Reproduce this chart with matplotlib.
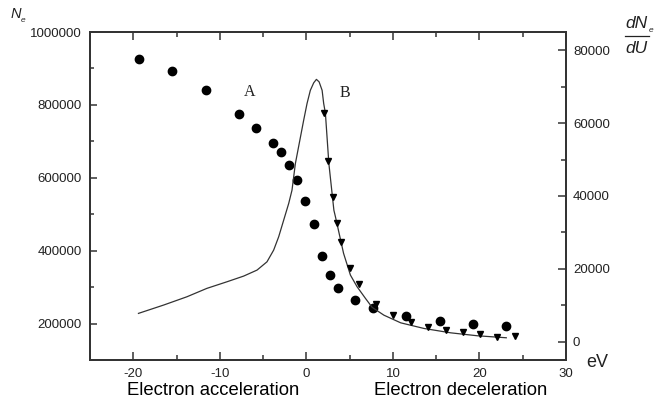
import matplotlib
matplotlib.use("Agg")
import matplotlib.pyplot as plt
from matplotlib.ticker import MultipleLocator
from matplotlib.lines import Line2D

plt.rcParams['font.family'] = ['Liberation Sans', 'DejaVu Sans']

# Ne (left axis) - circles
ne_x = [-19.3, -15.5, -11.65, -7.8, -5.8, -3.9, -2.97, -1.97, -1.08, -0.15,
        0.85, 1.8, 2.78, 3.7, 5.67, 7.66, 11.5, 15.4, 19.28, 23.1]
ne_y = [925000, 893500, 840500, 774500, 736000, 695500, 670000, 634000, 594000, 537000,
        473000, 386500, 332000, 298500, 263500, 242400, 220000, 206600, 199000, 194400]

# dNe/dU (right axis) - triangles
tri_x = [2.05, 2.55, 3.08, 3.55, 4.05, 5.0, 6.05, 8.1, 10.05, 12.06, 14.07,
         16.1, 18.1, 20.08, 22.05, 24.1]
tri_y = [62800, 49600, 39800, 32650, 27400, 20350, 15750, 10350, 7300, 5450, 4120,
         3210, 2600, 2200, 1250, 1450]

# dNe/dU (right axis) - curve
curve_x = [-19.4, -16.5, -13.8, -11.5, -9.18, -7.25, -5.7, -4.55, -3.78, -3.2, -2.62,
           -2.04, -1.66, -1.27, -0.31, 0.08, 0.46, 0.85, 1.16, 1.47, 1.82, 2.0, 2.2,
           2.6, 3.18, 3.36, 4.3, 5.09, 5.86, 6.83, 7.6, 8.96, 10.9, 13.6, 16.7, 19.75, 23.1]
curve_y = [7790, 10070, 12350, 14650, 16460, 18020, 19670, 21940, 25150, 28800, 33380,
           37960, 41600, 48900, 60800, 65400, 69000, 71060, 72000, 71330, 69000, 65400,
           62700, 48900, 36100, 34300, 24250, 18300, 15100, 11900, 9450, 7300, 5200, 3650,
           2450, 1650, 1100]

x_ticks = [-20, -10, 0, 10, 20, 30]
left_ticks = [200000, 400000, 600000, 800000, 1000000]
right_ticks = [0, 20000, 40000, 60000, 80000]

W, H = 654, 404
fig = plt.figure(figsize=(W / 100, H / 100), dpi=100)
ax = fig.add_axes([90 / W, 44 / H, 476 / W, 328 / H])
ax2 = ax.twinx()

spine_c = '#333333'
text_c = '#222222'

ax.plot(ne_x, ne_y, 'o', color='black', markersize=6, zorder=3)
ax2.plot(curve_x, curve_y, '-', color='#333333', linewidth=0.9)
ax2.plot(tri_x, tri_y, 'v', color='black', markersize=4.5)

ax.set_xlim(-25, 30)
ax.set_ylim(100000, 1000000)
ax2.set_ylim(-5000, 85000)

ax.set_xticks(x_ticks)
ax.set_xticklabels([str(v) for v in x_ticks])
ax.xaxis.set_minor_locator(MultipleLocator(5))
ax.set_yticks(left_ticks)
ax.set_yticklabels([str(v) for v in left_ticks])
ax.yaxis.set_minor_locator(MultipleLocator(100000))
ax2.set_yticks(right_ticks)
ax2.set_yticklabels([str(v) for v in right_ticks])
ax2.yaxis.set_minor_locator(MultipleLocator(10000))

for a in (ax, ax2):
    for s in a.spines.values():
        s.set_color(spine_c)
        s.set_linewidth(1.3)

ax.tick_params(axis='x', which='both', direction='in', top=True, bottom=True,
               color=spine_c, width=1.1, labelsize=9.5, labelcolor=text_c, pad=6)
ax.tick_params(axis='x', which='major', length=6)
ax.tick_params(axis='x', which='minor', length=3.5)
ax.tick_params(axis='y', which='both', direction='in', left=True, right=False,
               color=spine_c, width=1.1, labelsize=9.5, labelcolor=text_c, pad=6)
ax.tick_params(axis='y', which='major', length=5)
ax.tick_params(axis='y', which='minor', length=3)
ax2.tick_params(axis='y', which='both', direction='in', right=True, left=False,
                color=spine_c, width=1.1, labelsize=9.5, labelcolor=text_c, pad=5)
ax2.tick_params(axis='y', which='major', length=6)
ax2.tick_params(axis='y', which='minor', length=3.5)


def ft(x, y, s, **kw):
    fig.text(x / W, 1 - y / H, s, **kw)


# Annotations A and B
ft(250, 92, 'A', family=['Liberation Serif'], fontsize=11.5, ha='center', va='center', color='#222222')
ft(345, 93, 'B', family=['Liberation Serif'], fontsize=11.5, ha='center', va='center', color='#222222')

# Left axis label N_e
ft(11, 18.5, 'N', fontsize=10.5, style='italic', ha='left', va='baseline', color=text_c)
ft(21, 21.5, 'e', fontsize=6, style='italic', ha='left', va='baseline', color=text_c)

# Right axis label dNe/dU
ft(625, 28.3, 'dN', fontsize=12.5, style='italic', ha='left', va='baseline', color=text_c)
ft(648.5, 32, 'e', fontsize=6, style='italic', ha='left', va='baseline', color=text_c)
fig.add_artist(Line2D([625 / W, 649 / W], [1 - 35.7 / H, 1 - 35.7 / H],
                      color=text_c, linewidth=0.9, transform=fig.transFigure))
ft(625, 52.7, 'dU', fontsize=12.5, style='italic', ha='left', va='baseline', color=text_c)

# eV
ft(586, 367, 'eV', fontsize=13, ha='left', va='baseline', color=text_c)

# Bottom labels
ft(213, 395, 'Electron acceleration', fontsize=13.3, ha='center', va='baseline', color='black')
ft(460.5, 395, 'Electron deceleration', fontsize=13.3, ha='center', va='baseline', color='black')

fig.savefig('out.png', dpi=100)
